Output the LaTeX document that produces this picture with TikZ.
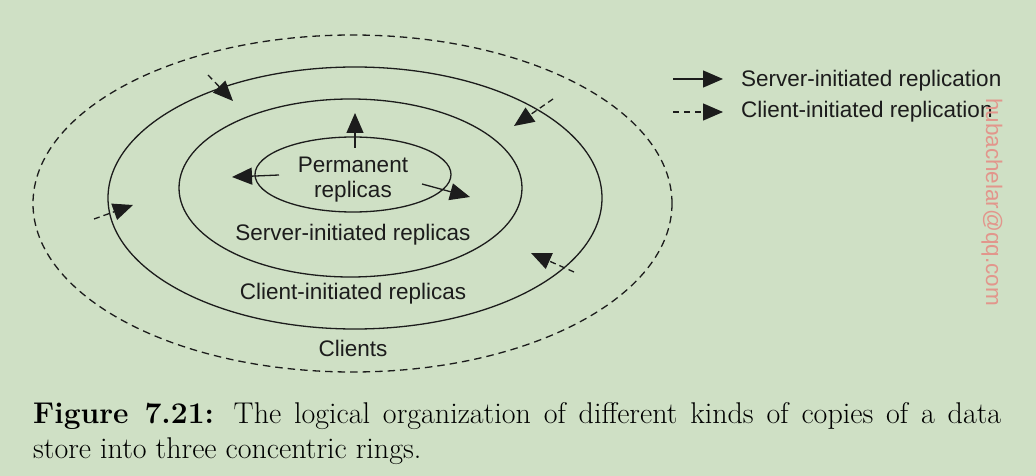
\documentclass[tikz,border=0pt]{standalone}
\usepackage{fontspec}
\setsansfont{Liberation Sans}
\usetikzlibrary{arrows.meta}
\definecolor{paper}{RGB}{207,224,197}
\definecolor{ink}{RGB}{28,28,28}
\definecolor{wmark}{RGB}{226,150,140}
\begin{document}
\begin{tikzpicture}[x=1pt,y=-1pt,
  ring/.style={draw=ink,line width=1.3pt},
  srv/.style={draw=ink,line width=1.3pt,-{Triangle[length=20pt,width=17pt]}},
  cli/.style={srv,dash pattern=on 6pt off 4pt},
  lbl/.style={font=\sffamily\fontsize{22.5}{26}\selectfont,text=ink,inner sep=0pt}]
\useasboundingbox[fill=paper] (0,0) rectangle (1036,476);
% rings
\draw[ring,dash pattern=on 7.5pt off 5pt] (352.5,203.5) ellipse [x radius=319.5,y radius=168.5];
\draw[ring] (355,198) ellipse [x radius=247,y radius=131];
\draw[ring] (350.5,188) ellipse [x radius=171.5,y radius=89];
\draw[ring] (353,174.5) ellipse [x radius=98,y radius=37.5];
% ring labels
\node[lbl,anchor=base] (perm) at (353,172) {Permanent};
\node[lbl,anchor=base] (repl) at (353,197) {replicas};
\node[lbl,anchor=base] (srep) at (353,240) {Server-initiated replicas};
\node[lbl,anchor=base] (crep) at (353,299) {Client-initiated replicas};
\node[lbl,anchor=base] (clnt) at (353,356) {Clients};
% server-initiated replication
\coordinate (up0) at (355,148);   \coordinate (up1) at (355,113);
\coordinate (lf0) at (279,175);   \coordinate (lf1) at (232,177);
\coordinate (rt0) at (422,184);   \coordinate (rt1) at (470,197);
\draw[srv] (up0) to (up1);
\draw[srv] (lf0) to (lf1);
\draw[srv] (rt0) to (rt1);
% client-initiated replication
\coordinate (c10) at (208,75);    \coordinate (c11) at (233,101);
\coordinate (c20) at (553,99);    \coordinate (c21) at (514,126);
\coordinate (c30) at (574,272);   \coordinate (c31) at (531,253);
\coordinate (c40) at (94,219);    \coordinate (c41) at (133,205);
\draw[cli] (c10) to (c11);
\draw[cli] (c20) to (c21);
\draw[cli] (c30) to (c31);
\draw[cli] (c40) to (c41);
% legend
\coordinate (ls0) at (673,79);    \coordinate (ls1) at (723,79);
\coordinate (lc0) at (673,112);   \coordinate (lc1) at (723,112);
\draw[srv] (ls0) to (ls1);
\draw[cli,dash pattern=on 6pt off 5pt] (lc0) to (lc1);
\node[lbl,anchor=base west] (lsrv) at (741,87) {Server-initiated replication};
\node[lbl,anchor=base west] (lcli) at (741,118) {Client-initiated replication};
% watermark
\node[font=\sffamily\fontsize{22.5}{26}\selectfont,text=wmark,rotate=-90,inner sep=0pt] (wm) at (992,202) {hubachelar@qq.com};
% caption
\node[anchor=north west,inner sep=0pt,text width=968pt,align=justify,
  font=\fontsize{30}{35}\selectfont] (cap) at (33,402)
  {\textbf{Figure 7.21:} The logical organization of different kinds of copies of a data\linebreak store into three concentric rings.};
\end{tikzpicture}
\end{document}
